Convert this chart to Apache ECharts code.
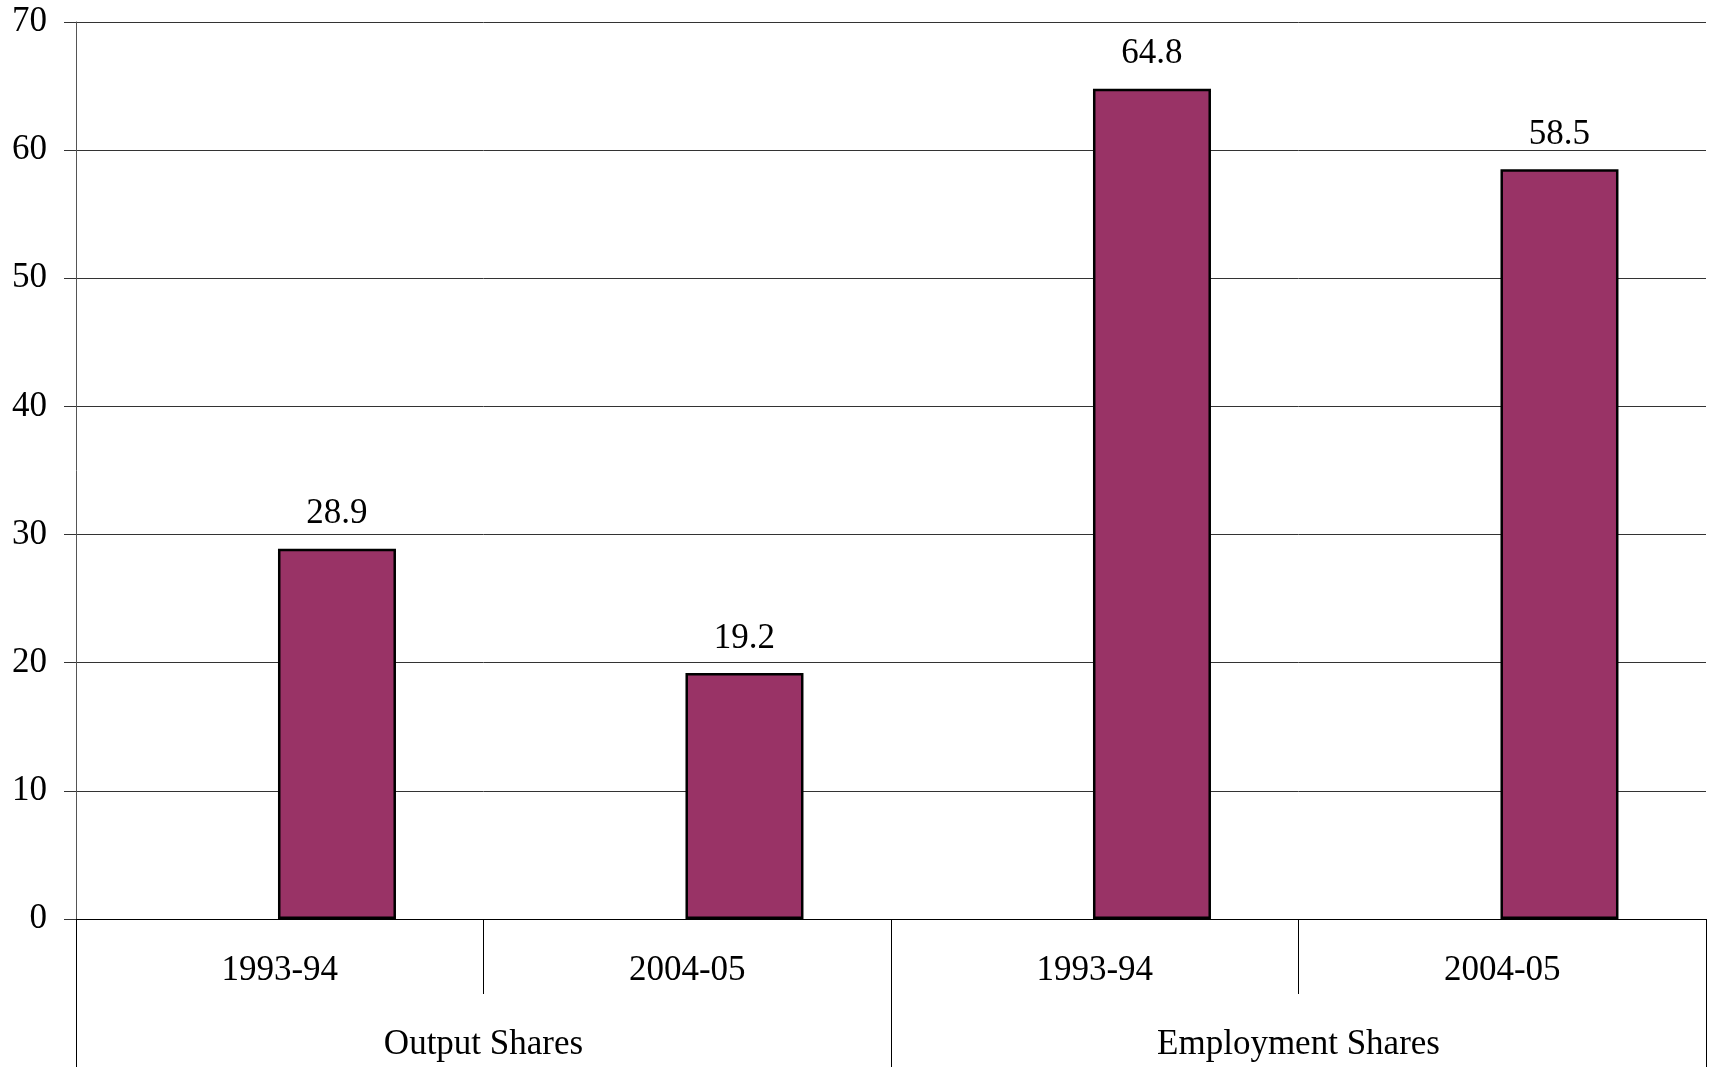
<!DOCTYPE html>
<html>
<head>
<meta charset="utf-8">
<title>Output and Employment Shares</title>
<script src="https://cdn.jsdelivr.net/npm/echarts@6/dist/echarts.min.js"></script>
<style>
  html, body { margin: 0; padding: 0; background: #fff; }
  #chart { width: 1711px; height: 1067px; }
</style>
</head>
<body>
<div id="chart"></div>
<script>
// data
var periods = ['1993-94', '2004-05', '1993-94', '2004-05'];
var groups = ['Output Shares', 'Employment Shares'];
var shares = [28.9, 19.2, 64.8, 58.5];
var blankSlot = ['-', '-', '-', '-']; // empty series, pushes bars right of centre
var yTicks = { min: 0, max: 70, interval: 10 };

var font = 'Liberation Serif, Times New Roman, serif';
var chart = echarts.init(document.getElementById('chart'));

chart.setOption({
  animation: false,
  backgroundColor: '#fff',
  grid: [
    { left: 76, right: 5, top: 22, bottom: 148 },
    { left: 76, right: 5, top: 22, bottom: 148 }
  ],
  xAxis: [{
    type: 'category',
    gridIndex: 0,
    data: periods,
    axisLine: { lineStyle: { color: '#000', width: 1 } },
    axisTick: { show: true, interval: 0, length: 75, lineStyle: { color: '#000' } },
    axisLabel: { interval: 0, margin: 34, color: '#000', fontFamily: font, fontSize: 35 }
  }, {
    type: 'category',
    gridIndex: 1,
    data: groups,
    axisLine: { show: false },
    axisTick: { show: true, interval: 0, length: 150, lineStyle: { color: '#000' } },
    axisLabel: { interval: 0, margin: 108, color: '#000', fontFamily: font, fontSize: 35 }
  }],
  yAxis: [{
    type: 'value',
    gridIndex: 0,
    min: yTicks.min,
    max: yTicks.max,
    interval: yTicks.interval,
    axisLine: { show: true, lineStyle: { color: '#555' } },
    axisTick: { show: true, length: 12, lineStyle: { color: '#333' } },
    axisLabel: { margin: 29, color: '#000', fontFamily: font, fontSize: 35 },
    splitLine: { show: true, lineStyle: { color: '#333', width: 1 } }
  }, {
    type: 'value',
    gridIndex: 1,
    show: false,
    min: yTicks.min,
    max: yTicks.max
  }],
  series: [{
    type: 'bar',
    xAxisIndex: 0,
    yAxisIndex: 0,
    data: blankSlot,
    barWidth: 118,
    barGap: '-3%'
  }, {
    type: 'bar',
    xAxisIndex: 0,
    yAxisIndex: 0,
    data: shares,
    barWidth: 118,
    barGap: '-3%',
    itemStyle: { color: '#993366', borderColor: '#000', borderWidth: 2.5 },
    label: {
      show: true,
      position: 'top',
      distance: 17,
      color: '#000',
      fontFamily: font,
      fontSize: 35,
      formatter: function (p) { return p.value.toFixed(1); }
    }
  }]
});
</script>
</body>
</html>
